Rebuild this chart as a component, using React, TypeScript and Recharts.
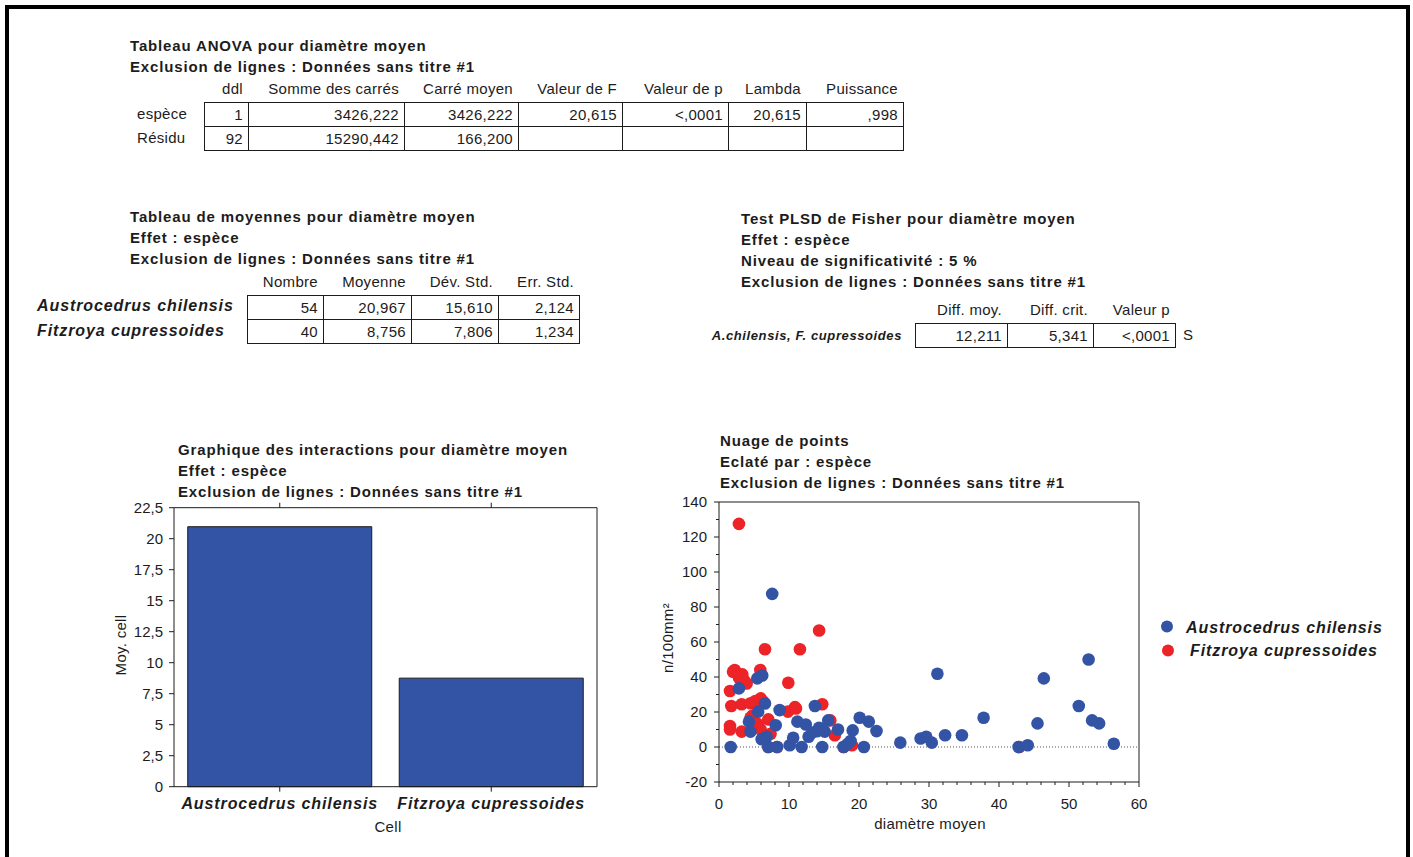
import React from "react";
import { Bar, BarChart, ReferenceLine, Scatter, ScatterChart, XAxis, YAxis } from "recharts";

// ---- data ----
const anovaHeaders = ["ddl", "Somme des carrés", "Carré moyen", "Valeur de F", "Valeur de p", "Lambda", "Puissance"];
const anovaLabels = ["espèce", "Résidu"];
const anovaRows = [
  ["1", "3426,222", "3426,222", "20,615", "<,0001", "20,615", ",998"],
  ["92", "15290,442", "166,200", "", "", "", ""],
];

const meanHeaders = ["Nombre", "Moyenne", "Dév. Std.", "Err. Std."];
const meanLabels = ["Austrocedrus chilensis", "Fitzroya cupressoides"];
const meanRows = [
  ["54", "20,967", "15,610", "2,124"],
  ["40", "8,756", "7,806", "1,234"],
];

const fisherHeaders = ["Diff. moy.", "Diff. crit.", "Valeur p"];
const fisherLabel = "A.chilensis, F. cupressoides";
const fisherRow = ["12,211", "5,341", "<,0001"];

const barCategories = ["Austrocedrus chilensis", "Fitzroya cupressoides"];
const barMeans = [20.967, 8.756];
const barTicks = [0, 2.5, 5, 7.5, 10, 12.5, 15, 17.5, 20, 22.5];

const scatterXMajor = [0, 10, 20, 30, 40, 50, 60];
const scatterXTicks = [0, 2, 4, 6, 8, 10, 12, 14, 16, 18, 20, 22, 24, 26, 28, 30, 32, 34, 36, 38, 40, 42, 44, 46, 48, 50, 52, 54, 56, 58, 60];
const scatterYMajor = [-20, 0, 20, 40, 60, 80, 100, 120, 140];
const scatterYTicks = [-20, -10, 0, 10, 20, 30, 40, 50, 60, 70, 80, 90, 100, 110, 120, 130, 140];

const austroX = [7.6, 31.2, 52.8, 46.4, 51.4, 37.8, 45.5, 53.3, 54.3, 56.4, 42.8, 44.1, 32.3, 34.7, 28.8, 29.6, 30.4, 25.9, 2.85, 5.47, 6.18, 6.57, 5.6, 8.66, 8.1, 4.28, 4.5, 6.09, 6.8, 1.67, 7.04, 8.3, 10.1, 10.6, 11.8, 11.2, 12.4, 12.8, 13.7, 14.3, 15.1, 14.75, 15.6, 17.0, 17.8, 18.8, 19.1, 20.1, 21.4, 22.5, 20.7, 13.3, 18.3, 14.0];
const austroY = [87.5, 41.9, 50, 39.2, 23.4, 16.7, 13.5, 15.2, 13.5, 1.9, 0, 1, 6.7, 6.7, 4.9, 5.9, 2.5, 2.5, 33.5, 39.2, 40.9, 24.9, 20.2, 21.1, 12.4, 14.5, 8.8, 4.4, 5.9, 0, 0, 0, 1, 5.3, 0, 14.5, 12.9, 5.9, 23.4, 11, 8.8, 0, 15.2, 10, 0, 3.4, 9.5, 16.7, 14.5, 9.1, 0, 8.2, 1.5, 9];

const fitzX = [2.85, 6.57, 11.56, 14.3, 2.24, 3.33, 2.85, 3.95, 5.9, 9.9, 1.57, 1.76, 3.24, 4.5, 5.2, 5.95, 10.85, 9.85, 14.75, 1.57, 1.57, 3.24, 4.5, 5.57, 5.95, 7.04, 7.37, 15.9, 16.55, 7.04, 8.3, 17.8, 42.9, 4.8, 6.3, 5.4, 2.0, 3.6, 11.0, 19.0];
const fitzY = [127.5, 55.9, 55.9, 66.6, 44, 41.5, 39.6, 36.3, 44, 36.7, 32, 23.4, 24.4, 25, 26.3, 27.8, 22.8, 20.2, 24.4, 12, 10, 8.8, 16.7, 12.9, 10, 15.8, 7.6, 15.2, 6.7, 0, 0, 0, 0, 18, 26, 13.5, 43, 38, 22, 1];

const INK = "#1c1c1c";
const BLUE = "#3353a5";
const RED = "#ec2327";
const FONT = '"Liberation Sans", Arial, sans-serif';

const barData = barCategories.map((name, i) => ({ name, mean: barMeans[i] }));
const austroPts = austroX.map((x, i) => ({ x, y: austroY[i] }));
const fitzPts = fitzX.map((x, i) => ({ x, y: fitzY[i] }));

const comma = (v: number) => String(v).replace(".", ",");

const bold = { fontWeight: 700, fontSize: 15, letterSpacing: 0.85 };
const reg = { fontSize: 15, letterSpacing: 0.3 };
const bi = { fontWeight: 700, fontStyle: "italic", fontSize: 16, letterSpacing: 0.9 };

const Txt = ({ x, y, s, children }: any) => (
  <div style={{ position: "absolute", left: x, top: y, transform: "translateY(-50%)", whiteSpace: "nowrap", lineHeight: "18px", ...s }}>
    {children}
  </div>
);

const TxtR = ({ r, y, s, children }: any) => (
  <div style={{ position: "absolute", left: r - 400, width: 400, top: y, transform: "translateY(-50%)", textAlign: "right", whiteSpace: "nowrap", lineHeight: "18px", ...s }}>
    {children}
  </div>
);

const Lines = ({ x, y, lines }: any) => (
  <>
    {lines.map((l: string, i: number) => (
      <Txt key={i} x={x} y={y + i * 21} s={bold}>{l}</Txt>
    ))}
  </>
);

// table cells drawn from column borders
const Grid = ({ xs, top, rowH, headers, headerY, rows }: any) => (
  <>
    {headers.map((h: string, c: number) => (
      <TxtR key={"h" + c} r={xs[c + 1] - 5} y={headerY} s={reg}>{h}</TxtR>
    ))}
    {rows.map((row: string[], r: number) =>
      row.map((v, c) => (
        <div
          key={r + "-" + c}
          style={{
            position: "absolute",
            left: xs[c],
            top: top + r * rowH,
            width: xs[c + 1] - xs[c] + 1,
            height: rowH + 1,
            boxSizing: "border-box",
            border: `1px solid ${INK}`,
            textAlign: "right",
            paddingRight: 5,
            lineHeight: rowH - 1 + "px",
            ...reg,
          }}
        >
          {v}
        </div>
      ))
    )}
  </>
);

const tickText = { fontSize: 15, fill: INK, fontFamily: FONT };

const makeTick = (side: string, majors: number[] | null, label: ((v: any) => any) | null, gap: number) => (props: any) => {
  const { x, y, payload } = props;
  const v = payload.value;
  const major = majors ? majors.includes(v) : true;
  const len = major ? 5 : 3;
  const show = label && major;
  if (side === "bottom")
    return (
      <g>
        <line x1={x} y1={y} x2={x} y2={y + len} stroke={INK} />
        {show && <text x={x} y={y + gap} textAnchor="middle" {...(tickText as any)}>{label(v)}</text>}
      </g>
    );
  if (side === "top")
    return <line x1={x} y1={y} x2={x} y2={y - len} stroke={INK} />;
  if (side === "right")
    return <line x1={x} y1={y} x2={x + len} y2={y} stroke={INK} />;
  return (
    <g>
      <line x1={x} y1={y} x2={x - len} y2={y} stroke={INK} />
      {show && <text x={x - len - gap} y={y + 5} textAnchor="end" {...(tickText as any)}>{label(v)}</text>}
    </g>
  );
};

const catLabel = (props: any) => {
  const { x, y, payload } = props;
  return (
    <g>
      <line x1={x} y1={y} x2={x} y2={y + 5} stroke={INK} />
      <text x={x} y={y + 22} textAnchor="middle" fontSize={16} fontWeight={700} fontStyle="italic" letterSpacing={0.9} fill={INK} fontFamily={FONT}>
        {payload.value}
      </text>
    </g>
  );
};

const dot = (color: string) => (p: any) => <circle cx={p.cx} cy={p.cy} r={6.3} fill={color} />;

const axisCommon = { tickSize: 0, tickMargin: 0, interval: 0 as const, axisLine: { stroke: INK } };

export default function App() {
  return (
    <div style={{ position: "absolute", left: 0, top: 0, width: 1413, height: 857, background: "#fff", overflow: "hidden", fontFamily: FONT, color: INK }}>
      <div style={{ position: "absolute", left: 5, top: 5, width: 1405, height: 900, boxSizing: "border-box", border: "4px solid #000" }} />

      {/* ANOVA */}
      <Lines x={130} y={46} lines={["Tableau ANOVA pour diamètre moyen", "Exclusion de lignes : Données sans titre #1"]} />
      <Grid xs={[204, 248, 404, 518, 622, 728, 806, 903]} top={102} rowH={24} headers={anovaHeaders} headerY={89} rows={anovaRows} />
      {anovaLabels.map((l, i) => (
        <Txt key={l} x={137} y={114 + i * 24} s={reg}>{l}</Txt>
      ))}

      {/* means */}
      <Lines x={130} y={217} lines={["Tableau de moyennes pour diamètre moyen", "Effet : espèce", "Exclusion de lignes : Données sans titre #1"]} />
      <Grid xs={[247, 323, 411, 498, 579]} top={295} rowH={24} headers={meanHeaders} headerY={282} rows={meanRows} />
      {meanLabels.map((l, i) => (
        <Txt key={l} x={37} y={306 + i * 25} s={bi}>{l}</Txt>
      ))}

      {/* Fisher */}
      <Lines x={741} y={219} lines={["Test PLSD de Fisher pour diamètre moyen", "Effet : espèce", "Niveau de significativité : 5 %", "Exclusion de lignes : Données sans titre #1"]} />
      <Grid xs={[915, 1007, 1093, 1175]} top={323} rowH={24} headers={fisherHeaders} headerY={310} rows={[fisherRow]} />
      <TxtR r={902} y={336} s={{ fontWeight: 700, fontStyle: "italic", fontSize: 13, letterSpacing: 0.6 }}>{fisherLabel}</TxtR>
      <Txt x={1183} y={335} s={reg}>S</Txt>

      {/* bar chart */}
      <Lines x={178} y={450} lines={["Graphique des interactions pour diamètre moyen", "Effet : espèce", "Exclusion de lignes : Données sans titre #1"]} />
      <div style={{ position: "absolute", left: 100, top: 495 }}>
        <BarChart width={520} height={345} data={barData} barCategoryGap="6.5%" margin={{ top: 11.7, right: 22, bottom: 52.3, left: 73 }}>
          <XAxis dataKey="name" type="category" height={1} {...axisCommon} tick={catLabel} />
          <XAxis xAxisId="t" dataKey="name" orientation="top" type="category" height={1} {...axisCommon} tick={makeTick("top", null, null, 0)} />
          <YAxis domain={[0, 22.5]} ticks={barTicks} width={1} {...axisCommon} tick={makeTick("left", null, comma, 6)} />
          <YAxis yAxisId="r" orientation="right" domain={[0, 22.5]} ticks={barTicks} width={1} {...axisCommon} tick={makeTick("right", null, null, 0)} />
          <Bar dataKey="mean" fill={BLUE} stroke={INK} strokeWidth={1} isAnimationActive={false} />
        </BarChart>
      </div>
      <div style={{ position: "absolute", left: 120, top: 645, transform: "translate(-50%, -50%) rotate(-90deg)", whiteSpace: "nowrap", ...reg }}>Moy. cell</div>
      <div style={{ position: "absolute", left: 388, top: 826, transform: "translate(-50%, -50%)", whiteSpace: "nowrap", ...reg }}>Cell</div>

      {/* scatter */}
      <Lines x={720} y={441} lines={["Nuage de points", "Eclaté par : espèce", "Exclusion de lignes : Données sans titre #1"]} />
      <div style={{ position: "absolute", left: 650, top: 490 }}>
        <ScatterChart width={520} height={350} margin={{ top: 11, right: 30, bottom: 57, left: 68 }}>
          <XAxis dataKey="x" type="number" domain={[0, 60]} ticks={scatterXTicks} height={1} {...axisCommon} tick={makeTick("bottom", scatterXMajor, (v) => v, 27)} />
          <XAxis xAxisId="t" orientation="top" type="number" domain={[0, 60]} ticks={scatterXTicks} height={1} {...axisCommon} tick={makeTick("top", scatterXMajor, null, 0)} />
          <YAxis dataKey="y" type="number" domain={[-20, 140]} ticks={scatterYTicks} width={1} {...axisCommon} tick={makeTick("left", scatterYMajor, (v) => v, 7)} />
          <YAxis yAxisId="r" orientation="right" type="number" domain={[-20, 140]} ticks={scatterYTicks} width={1} {...axisCommon} tick={makeTick("right", scatterYMajor, null, 0)} />
          <ReferenceLine y={0} stroke="#555" strokeDasharray="1 2" />
          <Scatter data={fitzPts} fill={RED} shape={dot(RED)} isAnimationActive={false} />
          <Scatter data={austroPts} fill={BLUE} shape={dot(BLUE)} isAnimationActive={false} />
        </ScatterChart>
      </div>
      <div style={{ position: "absolute", left: 667, top: 638, transform: "translate(-50%, -50%) rotate(-90deg)", whiteSpace: "nowrap", ...reg }}>
        n/100mm²
      </div>
      <div style={{ position: "absolute", left: 930, top: 823, transform: "translate(-50%, -50%)", whiteSpace: "nowrap", ...reg }}>diamètre moyen</div>

      {/* legend */}
      <svg style={{ position: "absolute", left: 1158, top: 617 }} width={20} height={44}>
        <circle cx={9} cy={9.5} r={6} fill={BLUE} />
        <circle cx={10} cy={33.5} r={6} fill={RED} />
      </svg>
      <Txt x={1186} y={628} s={bi}>{meanLabels[0]}</Txt>
      <Txt x={1190} y={651} s={bi}>{meanLabels[1]}</Txt>
    </div>
  );
}
